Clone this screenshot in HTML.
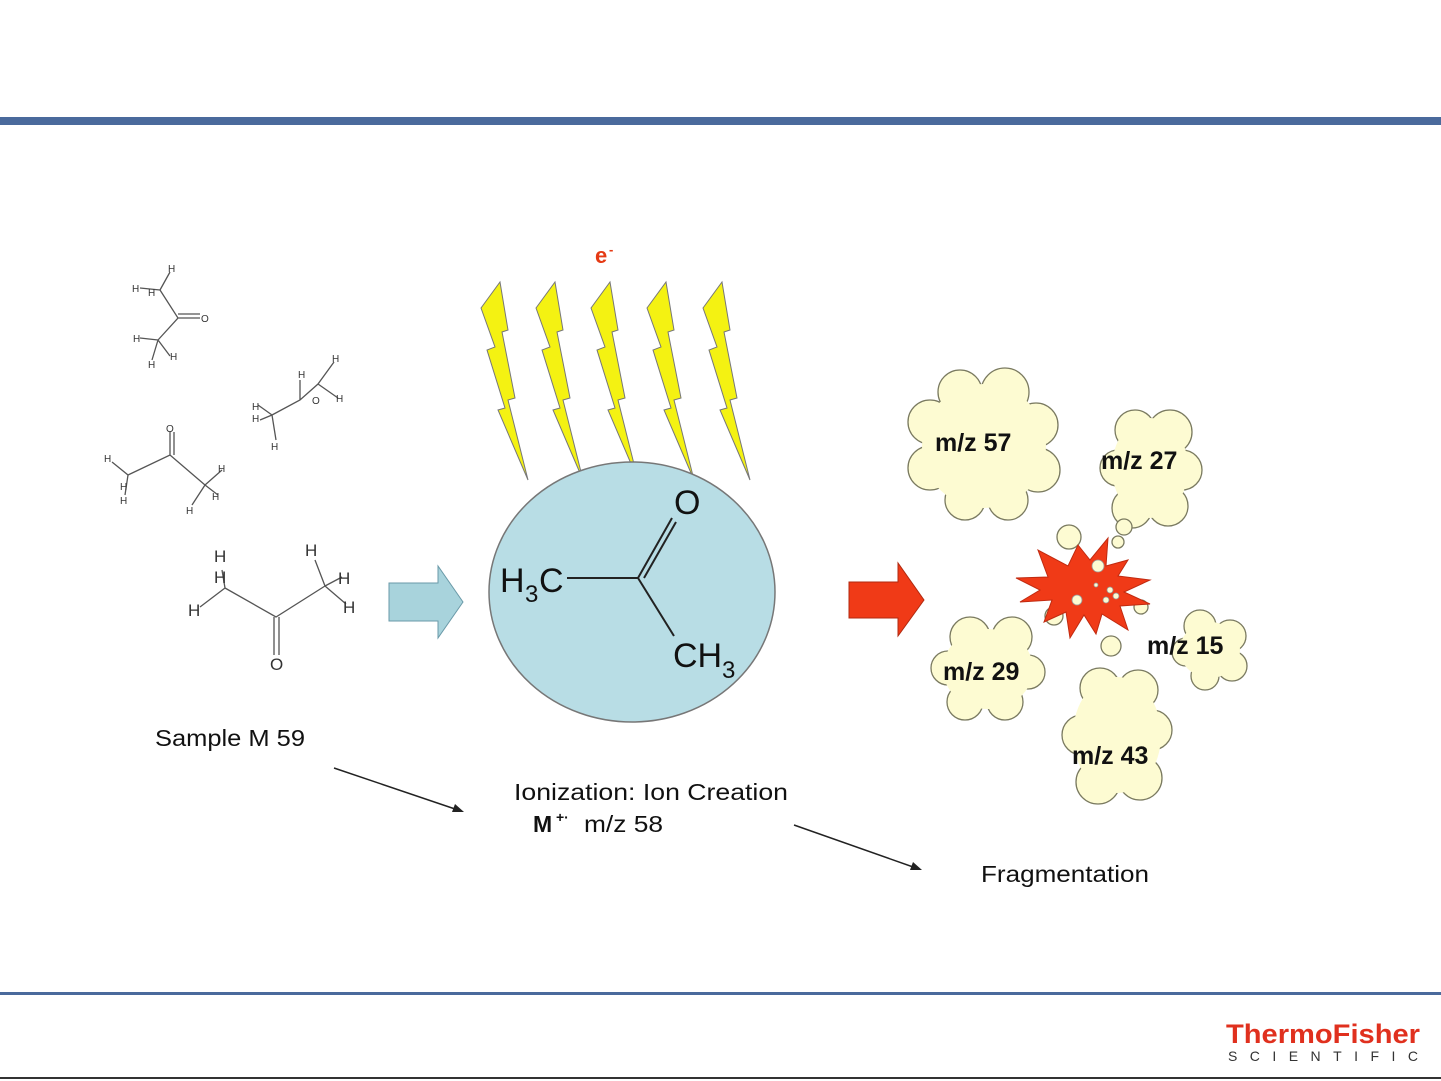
<!DOCTYPE html>
<html><head><meta charset="utf-8"><style>
html,body{margin:0;padding:0;background:#fff;}
svg{display:block;}
text{font-family:"Liberation Sans",sans-serif;}
</style></head><body>
<svg width="1441" height="1081" viewBox="0 0 1441 1081" xmlns="http://www.w3.org/2000/svg">
<rect x="0" y="117" width="1441" height="8" fill="#4a6a9c"/>
<rect x="0" y="992" width="1441" height="3" fill="#4a6a9c"/>
<rect x="0" y="1077" width="1441" height="2" fill="#333"/>

<!-- small molecules -->
<g stroke="#555" stroke-width="1.3" fill="none">
<path d="M160 290 L178 318 L158 340 M178 318 L200 318 M178 314 L200 314 M160 290 L170 272 M160 290 L140 288 M158 340 L140 338 M158 340 L170 356 M158 340 L152 360"/>
<path d="M272 415 L300 400 L318 384 L334 362 M318 384 L338 398 M300 400 L300 380 M272 415 L258 405 M272 415 L260 420 M272 415 L276 440"/>
<path d="M128 475 L170 455 L205 485 M170 455 L170 432 M174 455 L174 432 M128 475 L112 462 M128 475 L125 495 M205 485 L222 470 M205 485 L218 495 M205 485 L192 505"/>
<path d="M225 588 L276 617 L325 586 M274 617 L274 655 M279 617 L279 655 M225 588 L222 570 M225 588 L200 607 M325 586 L315 560 M325 586 L342 577 M325 586 L346 604"/>
</g>
<g font-size="10" fill="#333">
<text x="168" y="272">H</text><text x="132" y="292">H</text><text x="148" y="296">H</text><text x="201" y="322">O</text>
<text x="133" y="342">H</text><text x="170" y="360">H</text><text x="148" y="368">H</text>
<text x="332" y="362">H</text><text x="298" y="378">H</text><text x="336" y="402">H</text><text x="312" y="404">O</text>
<text x="252" y="410">H</text><text x="252" y="422">H</text><text x="271" y="450">H</text>
<text x="166" y="432">O</text><text x="104" y="462">H</text><text x="120" y="490">H</text><text x="120" y="504">H</text>
<text x="218" y="472">H</text><text x="212" y="500">H</text><text x="186" y="514">H</text>
</g>
<g font-size="17" fill="#333">
<text x="214" y="562">H</text><text x="214" y="583">H</text><text x="188" y="616">H</text>
<text x="305" y="556">H</text><text x="338" y="584">H</text><text x="343" y="613">H</text><text x="270" y="670">O</text>
</g>
<text x="155" y="746" font-size="23" fill="#111" textLength="150" lengthAdjust="spacingAndGlyphs">Sample M 59</text>

<!-- blue arrow -->
<path d="M389 583 L438 583 L438 566 L463 602 L438 638 L438 621 L389 621 Z" fill="#a8d3dc" stroke="#6a9aa8" stroke-width="1"/>

<!-- electrons -->
<text x="595" y="263" font-size="22" font-weight="bold" fill="#e53a14">e</text>
<text x="609" y="254" font-size="13" font-weight="bold" fill="#e53a14">-</text>
<g fill="#f4f212" stroke="#777" stroke-width="1">
<path id="b" d="M481 308 L500 282 L508 330 L502 332 L515 398 L508 400 L528 480 L498 410 L505 408 L487 350 L495 347 Z"/>
<use href="#b" x="55"/><use href="#b" x="110"/><use href="#b" x="166"/><use href="#b" x="222"/>
</g>

<!-- ion circle -->
<ellipse cx="632" cy="592" rx="143" ry="130" fill="#b8dde5" stroke="#777" stroke-width="1.5"/>
<g stroke="#222" stroke-width="2" fill="none">
<path d="M567 578 L638 578 L672 518 M644 578 L676 522 M638 578 L674 636"/>
</g>
<g font-size="34" fill="#111">
<text x="500" y="592">H</text><text x="525" y="602" font-size="24">3</text><text x="539" y="592">C</text>
<text x="674" y="514">O</text>
<text x="673" y="667">CH</text><text x="722" y="678" font-size="24">3</text>
</g>

<!-- red arrow -->
<path d="M849 582 L898 582 L898 563 L924 600 L898 636 L898 618 L849 618 Z" fill="#f03a17" stroke="#b02a10" stroke-width="1"/>

<!-- clouds: bumps then body -->
<g fill="#fdfbd2" stroke="#7a7a60" stroke-width="1.3">
<circle cx="960" cy="392" r="22"/><circle cx="1005" cy="392" r="24"/><circle cx="1036" cy="425" r="22"/><circle cx="1038" cy="470" r="22"/><circle cx="1008" cy="500" r="20"/><circle cx="965" cy="500" r="20"/><circle cx="930" cy="468" r="22"/><circle cx="930" cy="422" r="22"/>
<circle cx="1135" cy="430" r="20"/><circle cx="1170" cy="432" r="22"/><circle cx="1182" cy="470" r="20"/><circle cx="1168" cy="506" r="20"/><circle cx="1132" cy="508" r="20"/><circle cx="1118" cy="468" r="18"/>
<circle cx="970" cy="637" r="20"/><circle cx="1012" cy="637" r="20"/><circle cx="1028" cy="672" r="17"/><circle cx="1005" cy="702" r="18"/><circle cx="965" cy="702" r="18"/><circle cx="948" cy="668" r="17"/>
<circle cx="1200" cy="626" r="16"/><circle cx="1230" cy="636" r="16"/><circle cx="1232" cy="666" r="15"/><circle cx="1205" cy="676" r="14"/><circle cx="1186" cy="652" r="14"/>
<circle cx="1100" cy="688" r="20"/><circle cx="1138" cy="690" r="20"/><circle cx="1152" cy="730" r="20"/><circle cx="1140" cy="778" r="22"/><circle cx="1098" cy="782" r="22"/><circle cx="1082" cy="735" r="20"/>
</g>
<g fill="#fdfbd2">
<ellipse cx="984" cy="446" rx="62" ry="62"/>
<ellipse cx="1150" cy="468" rx="38" ry="50"/>
<ellipse cx="988" cy="669" rx="45" ry="40"/>
<ellipse cx="1210" cy="650" rx="30" ry="28"/>
<ellipse cx="1117" cy="735" rx="44" ry="58"/>
</g>
<g fill="#fdfbd2" stroke="#7a7a60" stroke-width="1.3">
<circle cx="1069" cy="537" r="12"/><circle cx="1124" cy="527" r="8"/><circle cx="1118" cy="542" r="6"/>
<circle cx="1054" cy="616" r="9"/><circle cx="1141" cy="607" r="7"/><circle cx="1111" cy="646" r="10"/>
</g>
<!-- starburst -->
<path d="M1016 578 L1048 577 L1038 550 L1068 566 L1078 545 L1090 560 L1108 538 L1106 566 L1128 560 L1118 576 L1150 580 L1124 592 L1150 604 L1120 606 L1128 630 L1102 614 L1096 634 L1084 615 L1070 638 L1066 612 L1044 622 L1052 600 L1020 602 L1040 590 Z" fill="#f03a17" stroke="#c02a10" stroke-width="1"/>
<g fill="#fdfbd2" stroke="#999" stroke-width="0.8">
<circle cx="1098" cy="566" r="6"/><circle cx="1077" cy="600" r="5"/><circle cx="1110" cy="590" r="3"/><circle cx="1116" cy="596" r="3"/><circle cx="1106" cy="600" r="3"/><circle cx="1096" cy="585" r="2"/>
</g>
<g font-size="25" font-weight="bold" fill="#111">
<text x="935" y="451">m/z 57</text>
<text x="1101" y="469">m/z 27</text>
<text x="943" y="680">m/z 29</text>
<text x="1147" y="654">m/z 15</text>
<text x="1072" y="764">m/z 43</text>
</g>

<!-- bottom arrows/labels -->
<g stroke="#222" stroke-width="1.5"><line x1="334" y1="768" x2="458" y2="810"/><line x1="794" y1="825" x2="916" y2="868"/></g>
<path d="M464 812 L452 812 L455 804 Z" fill="#222"/>
<path d="M922 870 L910 870 L913 862 Z" fill="#222"/>
<text x="514" y="800" font-size="23" fill="#111" textLength="274" lengthAdjust="spacingAndGlyphs">Ionization: Ion Creation</text>
<text x="533" y="832" font-size="23" font-weight="bold" fill="#111">M</text>
<text x="556" y="822" font-size="14" font-weight="bold" fill="#111">+·</text>
<text x="584" y="832" font-size="23" fill="#111" textLength="79" lengthAdjust="spacingAndGlyphs">m/z 58</text>
<text x="981" y="882" font-size="23" fill="#111" textLength="168" lengthAdjust="spacingAndGlyphs">Fragmentation</text>

<!-- logo -->
<text x="1226" y="1043" font-size="27" font-weight="bold" fill="#e0301e" textLength="194" lengthAdjust="spacingAndGlyphs">ThermoFisher</text>
<text x="1228" y="1061" font-size="14" fill="#333" textLength="190" lengthAdjust="spacing">SCIENTIFIC</text>
</svg>
</body></html>
